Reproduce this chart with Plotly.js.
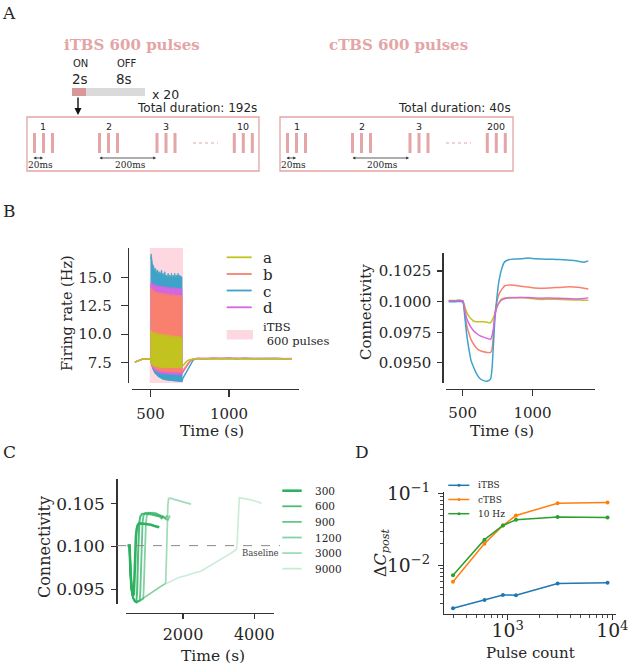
<!DOCTYPE html>
<html>
<head>
<meta charset="UTF-8">
<script src="https://cdn.plot.ly/plotly-3.0.1.min.js"></script>
<style>
  body { margin: 0; background: #fff; }
  #fig { width: 629px; height: 668px; }
</style>
</head>
<body>
<div id="fig"></div>
<script>
// ---- panel B left: firing rate (Hz) ----
// lower path of each series on a shared time grid (s)
const tLow = [400, 420, 450, 480, 500, 505, 515, 530, 550, 575, 600, 650, 700, 705, 715, 725, 740, 755, 770, 785, 800, 850, 900, 950, 1000, 1050, 1100, 1150, 1200, 1250, 1300, 1350, 1400];
const frA = [7.55, 7.65, 7.82, 7.83, 7.85, 7.5, 7.3, 7.2, 7.15, 7.13, 7.1, 7.1, 7.15, 7.22, 7.4, 7.55, 7.72, 7.8, 7.83, 7.85, 7.85, 7.86, 7.84, 7.87, 7.85, 7.86, 7.84, 7.86, 7.85, 7.84, 7.85, 7.84, 7.84];
const frB = [7.55, 7.65, 7.82, 7.83, 7.85, 7.55, 7.25, 7.0, 6.88, 6.8, 6.75, 6.72, 6.7, 6.8, 6.95, 7.15, 7.45, 7.68, 7.8, 7.84, 7.86, 7.88, 7.85, 7.9, 7.86, 7.89, 7.85, 7.88, 7.9, 7.86, 7.87, 7.85, 7.85];
const frC = [7.55, 7.65, 7.82, 7.83, 7.85, 7.5, 7.0, 6.6, 6.32, 6.1, 6.0, 5.93, 5.88, 6.1, 6.35, 6.6, 7.0, 7.4, 7.7, 7.83, 7.86, 7.82, 7.9, 7.84, 7.88, 7.83, 7.9, 7.85, 7.87, 7.83, 7.86, 7.84, 7.85];
const frD = [7.55, 7.65, 7.82, 7.83, 7.85, 7.5, 7.1, 6.85, 6.68, 6.6, 6.55, 6.52, 6.5, 6.65, 6.85, 7.1, 7.45, 7.7, 7.82, 7.85, 7.88, 7.86, 7.9, 7.87, 7.92, 7.86, 7.9, 7.87, 7.89, 7.86, 7.88, 7.85, 7.86];
// upper envelope of the oscillation during stimulation
const tTop = [500, 504, 512, 521, 527, 532, 539, 546, 552, 559, 565, 570, 575, 580, 586, 591, 596, 601, 607, 612, 617, 622, 628, 633, 638, 644, 649, 654, 660, 665, 670, 675, 681, 686, 690, 694, 700];
const topA = [10.0, 10.35, 10.0, 10.2, 9.9, 10.15, 9.85, 10.1, 9.8, 10.05, 9.8, 10.05, 9.75, 10.0, 9.75, 10.0, 9.7, 9.95, 9.7, 9.95, 9.7, 9.9, 9.65, 9.9, 9.65, 9.9, 9.65, 9.85, 9.6, 9.85, 9.6, 9.85, 9.6, 9.8, 9.6, 9.75, 9.6];
const topB = [13.6, 14.15, 13.85, 13.9, 13.6, 13.75, 13.5, 13.7, 13.45, 13.65, 13.4, 13.65, 13.4, 13.6, 13.35, 13.6, 13.35, 13.55, 13.3, 13.55, 13.3, 13.5, 13.3, 13.5, 13.25, 13.5, 13.25, 13.5, 13.25, 13.45, 13.25, 13.45, 13.2, 13.45, 13.2, 13.4, 13.2];
const topC = [16.6, 17.05, 16.2, 15.93, 15.5, 15.79, 15.4, 15.64, 15.25, 15.49, 15.2, 15.64, 15.2, 15.35, 15.1, 15.49, 15.1, 15.2, 14.95, 15.35, 14.95, 15.2, 14.95, 15.35, 14.95, 15.2, 14.95, 15.35, 14.95, 15.2, 14.95, 15.35, 14.95, 15.2, 15.0, 15.1, 15.0];
const topD = [14.0, 14.6, 14.35, 14.4, 14.2, 14.35, 14.15, 14.3, 14.1, 14.25, 14.05, 14.25, 14.05, 14.2, 14.0, 14.2, 14.0, 14.15, 13.95, 14.15, 13.95, 14.1, 13.9, 14.1, 13.9, 14.1, 13.9, 14.1, 13.9, 14.05, 13.9, 14.05, 13.9, 14.05, 13.9, 14.0, 13.9];
const stimSpan = [495, 707];
const frNames = ['a', 'b', 'c', 'd'];

// ---- panel B right: connectivity ----
const tConn = [400, 450, 500, 515, 530, 545, 560, 580, 600, 625, 650, 675, 700, 710, 720, 730, 745, 760, 780, 800, 830, 870, 920, 970, 1020, 1070, 1120, 1170, 1220, 1270, 1320, 1370, 1400];
const connA = [0.1001, 0.1001, 0.10008, 0.0996, 0.0991, 0.0988, 0.0986, 0.0984, 0.09836, 0.09835, 0.09835, 0.09832, 0.09828, 0.09845, 0.0987, 0.0990, 0.0995, 0.0999, 0.10022, 0.1003, 0.10034, 0.10033, 0.10033, 0.10028, 0.10022, 0.10018, 0.1002, 0.10019, 0.10017, 0.10015, 0.10014, 0.10012, 0.10011];
const connB = [0.10008, 0.10008, 0.10006, 0.0990, 0.0980, 0.0974, 0.0969, 0.0965, 0.0962, 0.0960, 0.0959, 0.09585, 0.09585, 0.0961, 0.0973, 0.0989, 0.1000, 0.1006, 0.1010, 0.10128, 0.10136, 0.10135, 0.10125, 0.1012, 0.10112, 0.1011, 0.10112, 0.10115, 0.10118, 0.10122, 0.10118, 0.1011, 0.10104];
const connC = [0.1000, 0.1000, 0.09998, 0.0988, 0.0972, 0.0961, 0.0952, 0.0946, 0.0941, 0.0937, 0.09355, 0.0935, 0.0937, 0.0945, 0.0964, 0.0984, 0.1003, 0.1017, 0.1027, 0.10325, 0.10342, 0.10348, 0.1035, 0.10356, 0.1035, 0.10348, 0.10347, 0.10345, 0.10342, 0.10338, 0.10332, 0.10323, 0.10333];
const connD = [0.10008, 0.10008, 0.10006, 0.0993, 0.0986, 0.0982, 0.0979, 0.0976, 0.0974, 0.0972, 0.0971, 0.0970, 0.09692, 0.0972, 0.0978, 0.0988, 0.0996, 0.0999, 0.10014, 0.10024, 0.1003, 0.10032, 0.10034, 0.10033, 0.1003, 0.10028, 0.1003, 0.10028, 0.10026, 0.10024, 0.10022, 0.10025, 0.10033];

// ---- panel C: connectivity for iTBS of different pulse counts ----
const pulseLabels = ['300', '600', '900', '1200', '3000', '9000'];
const c300_t = [450, 500, 530, 560, 596, 620, 640, 660, 680, 700, 730, 770, 800, 900, 1000, 1100, 1200, 1300, 1335];
const c300_y = [0.1001, 0.1001, 0.0968, 0.0950, 0.0942, 0.0945, 0.0965, 0.0995, 0.1012, 0.1020, 0.1025, 0.1027, 0.1027, 0.10265, 0.1026, 0.10255, 0.1024, 0.1023, 0.10225];
const c600_t = [450, 500, 530, 560, 600, 650, 692, 715, 735, 755, 775, 800, 850, 950, 1050, 1150, 1250, 1350, 1400, 1430, 1450];
const c600_y = [0.1001, 0.1001, 0.0968, 0.0950, 0.0940, 0.0936, 0.0935, 0.0950, 0.0985, 0.1012, 0.1028, 0.1035, 0.1038, 0.10385, 0.1038, 0.1037, 0.1036, 0.1035, 0.1033, 0.1034, 0.1035];
const c900_t = [450, 500, 530, 560, 600, 650, 700, 788, 805, 825, 845, 865, 890, 940, 1040, 1140, 1240, 1340, 1440, 1500, 1540, 1560];
const c900_y = [0.1001, 0.1001, 0.0968, 0.0950, 0.0940, 0.0936, 0.0935, 0.0937, 0.0950, 0.0985, 0.1012, 0.1028, 0.1036, 0.1039, 0.10395, 0.1039, 0.1038, 0.1036, 0.1035, 0.1033, 0.1035, 0.1036];
const c1200_t = [450, 500, 530, 560, 600, 650, 700, 800, 884, 900, 920, 940, 960, 985, 1040, 1140, 1240, 1340, 1440, 1520, 1580, 1620, 1640];
const c1200_y = [0.1001, 0.1001, 0.0968, 0.0950, 0.0940, 0.0936, 0.0935, 0.0937, 0.0939, 0.0952, 0.0985, 0.1012, 0.1028, 0.1036, 0.1039, 0.10395, 0.1039, 0.1037, 0.1035, 0.1032, 0.1031, 0.1035, 0.1036];
const c3000_t = [450, 500, 530, 560, 600, 650, 700, 800, 900, 1000, 1100, 1200, 1300, 1400, 1480, 1515, 1535, 1555, 1575, 1595, 1650, 1750, 1850, 1950, 2050, 2150, 2225];
const c3000_y = [0.1001, 0.1001, 0.0968, 0.0950, 0.0940, 0.0936, 0.0935, 0.0937, 0.0940, 0.0943, 0.0946, 0.0949, 0.0951, 0.0954, 0.0956, 0.0958, 0.0985, 0.1025, 0.1048, 0.1056, 0.10565, 0.1055, 0.1054, 0.1053, 0.10515, 0.10505, 0.10495];
const c9000_t = [450, 500, 530, 560, 600, 650, 700, 800, 900, 1000, 1100, 1200, 1300, 1400, 1500, 1700, 1900, 2100, 2300, 2500, 2700, 2900, 3100, 3300, 3450, 3500, 3520, 3540, 3560, 3580, 3650, 3750, 3850, 3950, 4050, 4150, 4200];
const c9000_y = [0.1001, 0.1001, 0.0968, 0.0950, 0.0940, 0.0936, 0.0935, 0.0937, 0.0940, 0.0943, 0.0946, 0.0949, 0.0951, 0.0954, 0.0956, 0.0960, 0.0964, 0.0966, 0.0969, 0.0971, 0.0976, 0.0980, 0.0985, 0.0991, 0.0995, 0.0997, 0.1005, 0.1030, 0.1050, 0.1057, 0.10565, 0.1056, 0.1055, 0.1054, 0.1053, 0.10515, 0.1050];
const baseline = 0.1001;

// ---- panel D: delta C post vs pulse count ----
const pulseCounts = [300, 600, 900, 1200, 3000, 9000];
const protocolNames = ['iTBS', 'cTBS', '10 Hz'];
const dItbs = [0.00256, 0.00334, 0.00391, 0.00388, 0.00565, 0.00577];
const dCtbs = [0.00595, 0.0201, 0.0358, 0.0492, 0.0728, 0.0743];
const d10hz = [0.00736, 0.0228, 0.0358, 0.0430, 0.0468, 0.0462];

// ---- panel A: schematic ----
const itbsBursts = ['1', '2', '3', '10'];
const ctbsBursts = ['1', '2', '3', '200'];

const W = 629, H = 668;
const px = x => x / W;
const py = y => 1 - y / H;
const SERIF = 'DejaVu Serif, serif';
const SANS = 'DejaVu Sans, sans-serif';
const INK = '#262626';
const colA = '#c3c31f', colB = '#f9806f', colC = '#3fa2c8', colD = '#d566df';
const frColors = [colA, colB, colC, colD];
const spanPink = '#fdd8e0';
const schemePink = '#e3a5a5';
const dColors = ['#1f77b4', '#ff7f0e', '#2ca02c'];
const cAlpha = [1, 0.85, 0.72, 0.58, 0.45, 0.25];
const cWidth = [2.6, 2.0, 1.9, 1.8, 1.7, 1.6];
const cColor = i => `rgba(44,178,96,${cAlpha[i]})`;

const traces = [];

// B left: stimulation span, then bands (c, d, b, a from back to front)
traces.push({
  x: [stimSpan[0], stimSpan[1], stimSpan[1], stimSpan[0], stimSpan[0]],
  y: [5.72, 5.72, 17.57, 17.57, 5.72],
  xaxis: 'x', yaxis: 'y', mode: 'none', fill: 'toself', fillcolor: spanPink, hoverinfo: 'skip'
});
const frLow = [frA, frB, frC, frD];
const frTop = [topA, topB, topC, topD];
[2, 3, 1, 0].forEach(k => {
  const inStim = tLow.map((t, i) => [t, frLow[k][i]]).filter(p => p[0] >= 500 && p[0] <= 700).reverse();
  traces.push({
    x: tTop.concat(inStim.map(p => p[0])),
    y: frTop[k].concat(inStim.map(p => p[1])),
    xaxis: 'x', yaxis: 'y', mode: 'lines', fill: 'toself', fillcolor: frColors[k],
    line: {color: frColors[k], width: 0.8}, hoverinfo: 'skip'
  });
  traces.push({x: tLow, y: frLow[k], xaxis: 'x', yaxis: 'y', mode: 'lines', name: frNames[k],
    line: {color: frColors[k], width: 1.5}});
});

// B right
[connA, connB, connC, connD].forEach((v, k) => {
  traces.push({x: tConn, y: v, xaxis: 'x2', yaxis: 'y2', mode: 'lines', name: frNames[k],
    line: {color: frColors[k], width: 1.5, shape: 'spline', smoothing: 0.6}});
});

// C
const cT = [c300_t, c600_t, c900_t, c1200_t, c3000_t, c9000_t];
const cY = [c300_y, c600_y, c900_y, c1200_y, c3000_y, c9000_y];
pulseLabels.forEach((lab, i) => {
  traces.push({x: cT[i], y: cY[i], xaxis: 'x3', yaxis: 'y3', mode: 'lines', name: lab,
    line: {color: cColor(i), width: cWidth[i]}});
});

// D
[dItbs, dCtbs, d10hz].forEach((v, k) => {
  traces.push({x: pulseCounts, y: v, xaxis: 'x4', yaxis: 'y4', mode: 'lines+markers', name: protocolNames[k],
    line: {color: dColors[k], width: 1.5}, marker: {color: dColors[k], size: 4}});
});

const baseAxis = {
  showgrid: false, zeroline: false, showline: true, linecolor: '#333', linewidth: 1.2,
  ticks: 'outside', ticklen: 5, tickwidth: 1.2, tickcolor: '#333',
  tickfont: {family: SERIF, size: 15, color: INK}
};

const shapes = [];
const annotations = [];
const ann = (text, x, y, o = {}) => annotations.push(Object.assign({
  text, x: px(x), y: py(y), xref: 'paper', yref: 'paper', showarrow: false,
  xanchor: 'center', yanchor: 'middle',
  font: {family: SERIF, size: 15, color: INK}
}, o));
const seg = (x0, x1, y, color, width, dash) => shapes.push({type: 'line', xref: 'paper', yref: 'paper',
  x0: px(x0), x1: px(x1), y0: py(y), y1: py(y), line: {color, width, dash: dash || 'solid'}});
const box = (x0, x1, y0, y1, fill, line) => shapes.push({type: 'rect', xref: 'paper', yref: 'paper',
  x0: px(x0), x1: px(x1), y0: py(y1), y1: py(y0), fillcolor: fill || 'rgba(0,0,0,0)', line: line || {width: 0}});

// panel letters
ann('A', 9, 13, {font: {family: SERIF, size: 17, color: INK}});
ann('B', 9, 211, {font: {family: SERIF, size: 17, color: INK}});
ann('C', 9, 452, {font: {family: SERIF, size: 17, color: INK}});
ann('D', 362, 452, {font: {family: SERIF, size: 17, color: INK}});

// axis titles
ann('Firing rate (Hz)', 67, 313, {textangle: -90, font: {family: SERIF, size: 14.5, color: INK}});
ann('Time (s)', 212, 431, {font: {family: SERIF, size: 15.5, color: INK}});
ann('Connectivity', 366, 312, {textangle: -90, font: {family: SERIF, size: 15, color: INK}});
ann('Time (s)', 502, 431, {font: {family: SERIF, size: 15.5, color: INK}});
ann('Connectivity', 44, 547, {textangle: -90, font: {family: SERIF, size: 16, color: INK}});
ann('Time (s)', 213, 656, {font: {family: SERIF, size: 15.5, color: INK}});
ann('\u0394<i>C</i><sub><i>post</i></sub>', 381, 553, {textangle: -90, font: {family: SERIF, size: 16, color: INK}});
ann('Pulse count', 530, 653, {font: {family: SERIF, size: 15, color: INK}});

// legend, panel B left
[0, 1, 2, 3].forEach(k => {
  const y = [257.3, 274, 290.5, 307.3][k];
  seg(226.7, 251.7, y, frColors[k], 1.8);
  ann(frNames[k], 261, y + 1, {xanchor: 'left', font: {family: SERIF, size: 15, color: INK}});
});
box(226.7, 253, 330, 339.5, spanPink);
ann('iTBS', 261, 327, {xanchor: 'left', font: {family: SERIF, size: 11.5, color: INK}});
ann('\u00a0600 pulses', 261, 341, {xanchor: 'left', font: {family: SERIF, size: 11.5, color: INK}});

// legend, panel C
pulseLabels.forEach((lab, i) => {
  const y = 490.7 + i * 15.6;
  seg(282.3, 301.7, y, cColor(i), i === 0 ? 2.6 : 1.8);
  ann(lab, 313.3, y, {xanchor: 'left', font: {family: SERIF, size: 10.5, color: INK}});
});

// legend, panel D
protocolNames.forEach((lab, k) => {
  const y = [485.3, 499.5, 513.7][k];
  seg(448.3, 469.3, y, dColors[k], 1.5);
  shapes.push({type: 'circle', xref: 'paper', yref: 'paper', x0: px(457.5), x1: px(460.5), y0: py(y + 1.5), y1: py(y - 1.5),
    fillcolor: dColors[k], line: {width: 0}});
  ann(lab, 476, y, {xanchor: 'left', font: {family: SERIF, size: 9, color: INK}});
});

// panel C baseline
shapes.push({type: 'line', xref: 'paper', yref: 'y3', x0: px(117), x1: px(280), y0: baseline, y1: baseline,
  line: {color: '#888', width: 1, dash: 'dash'}});
ann('Baseline', 281, 552.5, {xanchor: 'right', font: {family: SERIF, size: 8.5, color: '#444'}});

// panel A schematic
ann('<b>iTBS 600 pulses</b>', 132, 45, {font: {family: SERIF, size: 15, color: schemePink}});
ann('<b>cTBS 600 pulses</b>', 398, 45, {font: {family: SERIF, size: 15, color: schemePink}});
ann('ON', 80, 64, {font: {family: SANS, size: 10, color: INK}});
ann('OFF', 127, 64, {font: {family: SANS, size: 10, color: INK}});
ann('2s', 80, 79, {font: {family: SANS, size: 13.5, color: INK}});
ann('8s', 124, 79, {font: {family: SANS, size: 13.5, color: INK}});
ann('x 20', 150, 94, {xanchor: 'left', font: {family: SANS, size: 12.5, color: INK}});
ann('Total duration: 192s', 259, 108, {xanchor: 'right', font: {family: SANS, size: 12, color: INK}});
ann('Total duration: 40s', 513, 108, {xanchor: 'right', font: {family: SANS, size: 12, color: INK}});
box(72, 86, 88, 96, '#d99797');
box(86, 145, 88, 96, '#dadada');
annotations.push({x: px(78), y: py(115), ax: 0, ay: -19, xref: 'paper', yref: 'paper', text: '',
  showarrow: true, arrowhead: 2, arrowsize: 1, arrowwidth: 1.4, arrowcolor: '#111'});

const groupOffsets = [16.5, 81.5, 139, 216.3];
[[27, 259, itbsBursts], [280, 513, ctbsBursts]].forEach(([x0, x1, labels]) => {
  box(x0, x1, 117, 171, null, {color: schemePink, width: 1.3});
  labels.forEach((lab, g) => {
    const cx = x0 + groupOffsets[g];
    [-9, 0, 9].forEach(d => box(cx + d - 1.5, cx + d + 1.5, 133, 153, schemePink));
    ann(lab, cx, 127, {font: {family: SANS, size: 9.5, color: INK}});
  });
  seg(x0 + 166, x0 + 191, 143, schemePink, 1.2, 'dot');
  // 20 ms and 200 ms spans
  [[x0 + 5, x0 + 16, '20ms'], [x0 + 71, x0 + 129, '200ms']].forEach(([a, b, lab]) => {
    annotations.push({x: px(b), y: py(158), ax: a - b, ay: 0, xref: 'paper', yref: 'paper', text: '',
      showarrow: true, arrowhead: 2, arrowsize: 0.7, arrowwidth: 0.8, arrowcolor: '#333', arrowside: 'end+start'});
    ann(lab, lab === '20ms' ? a + 8 : (a + b) / 2 + 3, 165, {font: {family: SERIF, size: 9, color: INK}});
  });
});

const minorTicks = {ticks: 'outside', ticklen: 3, tickwidth: 0.9, tickcolor: '#333', dtick: 'D1'};

const layout = {
  width: W, height: H,
  margin: {l: 0, r: 0, t: 0, b: 0},
  paper_bgcolor: '#fff', plot_bgcolor: 'rgba(0,0,0,0)',
  font: {family: SERIF, color: INK},
  showlegend: false,
  xaxis: Object.assign({}, baseAxis, {domain: [px(132), px(298.9)], range: [382, 1445], anchor: 'free',
    position: py(389), tickvals: [500, 1000], ticklen: 7, ticklabelstandoff: 4}),
  yaxis: Object.assign({}, baseAxis, {domain: [py(383), py(248)], range: [5.72, 17.57], anchor: 'free',
    position: px(127.7), tickvals: [7.5, 10, 12.5, 15], tickformat: '.1f', ticklen: 7, ticklabelstandoff: 6}),
  xaxis2: Object.assign({}, baseAxis, {domain: [px(446.2), px(594.6)], range: [382, 1445], anchor: 'free',
    position: py(388.7), tickvals: [500, 1000], ticklen: 6, ticklabelstandoff: 4}),
  yaxis2: Object.assign({}, baseAxis, {domain: [py(382.7), py(252.7)], range: [0.09338, 0.1040], anchor: 'free',
    position: px(442.3), tickvals: [0.095, 0.0975, 0.1, 0.1025], tickformat: '.4f', ticklabelstandoff: 3}),
  xaxis3: Object.assign({}, baseAxis, {domain: [px(126), px(274)], range: [401, 4553], anchor: 'free',
    position: py(612.7), tickvals: [2000, 4000], ticklabelstandoff: 2,
    tickfont: {family: SERIF, size: 16, color: INK}}),
  yaxis3: Object.assign({}, baseAxis, {domain: [py(604), py(479.3)], range: [0.09328, 0.10785], anchor: 'free',
    position: px(116.3), tickvals: [0.095, 0.1, 0.105], tickformat: '.3f', ticklabelstandoff: 3,
    tickfont: {family: SERIF, size: 17, color: INK}}),
  xaxis4: Object.assign({}, baseAxis, {type: 'log', domain: [px(444.3), px(616)], range: [2.394, 4.035], anchor: 'y4',
    dtick: 1, exponentformat: 'power', ticklabelstandoff: -4, minor: minorTicks}),
  yaxis4: Object.assign({}, baseAxis, {type: 'log', domain: [py(613.5), py(491.7)], range: [-2.664, -0.978], anchor: 'x4',
    dtick: 1, exponentformat: 'power', ticklabelstandoff: 5, minor: minorTicks}),
  shapes, annotations
};

Plotly.newPlot('fig', traces, layout, {staticPlot: true, displayModeBar: false});
</script>
</body>
</html>
